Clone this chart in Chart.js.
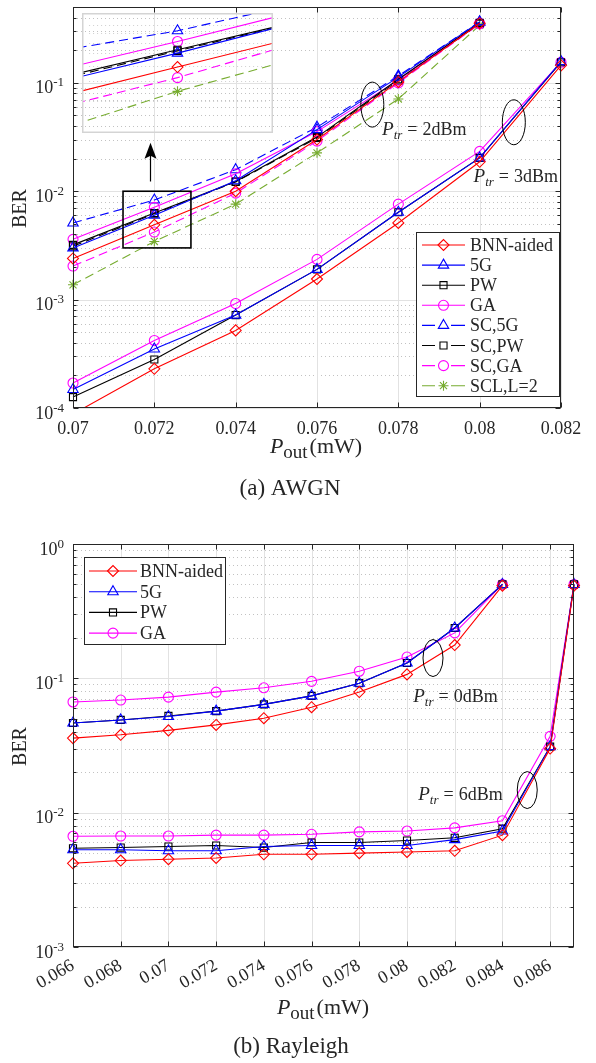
<!DOCTYPE html>
<html>
<head>
<meta charset="utf-8">
<script src="https://cdn.jsdelivr.net/npm/chart.js@4.4.1/dist/chart.umd.min.js"></script>
<style>
html,body{margin:0;padding:0;background:#fff;}
body{width:596px;height:1063px;position:relative;overflow:hidden;}
.w{position:absolute;}
#wa{left:0;top:0;width:596px;height:500px;}
#wi{left:82px;top:13px;width:191px;height:120px;}
#wb{left:0;top:500px;width:596px;height:563px;}
</style>
</head>
<body>
<div class="w" id="wa"><canvas id="ca"></canvas></div>
<div class="w" id="wb"><canvas id="cb"></canvas></div>
<div class="w" id="wi"><canvas id="ci"></canvas></div>
<script>
// ===================== DATA : (a) AWGN =====================
const pOutA_2dBm = [0.070, 0.072, 0.074, 0.076, 0.078, 0.080];
const pOutA_3dBm = [0.070, 0.072, 0.074, 0.076, 0.078, 0.080, 0.082];
const berA_BNN_2  = [0.0024, 0.0049, 0.0100, 0.0300, 0.102, 0.355];
const berA_5G_2   = [0.0030, 0.0060, 0.0125, 0.0370, 0.113, 0.365];
const berA_PW_2   = [0.0032, 0.0063, 0.0123, 0.0316, 0.108, 0.358];
const berA_GA_2   = [0.0036, 0.0071, 0.0145, 0.0355, 0.106, 0.355];
const berA_SC5G_2 = [0.0051, 0.0083, 0.0158, 0.0390, 0.116, 0.365];
const berA_SCPW_2 = [0.0031, 0.0062, 0.0122, 0.0310, 0.105, 0.352];
const berA_SCGA_2 = [0.00204, 0.0042, 0.0096, 0.0290, 0.100, 0.350];
const berA_SCL_2  = [0.00137, 0.00344, 0.0076, 0.0226, 0.071, 0.340];
const berA_BNN_3  = [0.000088, 0.00023, 0.00052, 0.00155, 0.0051, 0.0187, 0.145];
const berA_5G_3   = [0.000148, 0.00035, 0.00072, 0.00190, 0.0064, 0.0203, 0.157];
const berA_PW_3   = [0.000126, 0.00028, 0.00072, 0.00190, 0.0064, 0.0203, 0.155];
const berA_GA_3   = [0.000170, 0.00042, 0.00092, 0.00235, 0.0076, 0.0233, 0.155];
const xTicksA   = [0.070, 0.072, 0.074, 0.076, 0.078, 0.080, 0.082];
const yDecadesA = [1e-4, 1e-3, 1e-2, 1e-1];

// ===================== DATA : (b) Rayleigh =====================
const pOutB_0dBm = [0.066, 0.068, 0.070, 0.072, 0.074, 0.076, 0.078, 0.080, 0.082, 0.084];
const pOutB_6dBm = [0.066, 0.068, 0.070, 0.072, 0.074, 0.076, 0.078, 0.080, 0.082, 0.084, 0.086, 0.087];
const berB_BNN_0 = [0.0359, 0.038, 0.041, 0.045, 0.0505, 0.061, 0.079, 0.107, 0.177, 0.49];
const berB_5G_0  = [0.0465, 0.049, 0.052, 0.057, 0.064, 0.074, 0.092, 0.130, 0.237, 0.50];
const berB_PW_0  = [0.0465, 0.049, 0.0525, 0.057, 0.064, 0.074, 0.092, 0.130, 0.237, 0.50];
const berB_GA_0  = [0.0667, 0.0689, 0.0725, 0.079, 0.085, 0.095, 0.113, 0.144, 0.218, 0.50];
const berB_BNN_6 = [0.0042, 0.0044, 0.0045, 0.0046, 0.0049, 0.0049, 0.0050, 0.0051, 0.0052, 0.0068, 0.030, 0.49];
const berB_5G_6  = [0.0053, 0.0053, 0.0052, 0.0052, 0.0056, 0.0057, 0.0057, 0.0057, 0.0063, 0.0073, 0.031, 0.50];
const berB_PW_6  = [0.00543, 0.0055, 0.0056, 0.0057, 0.0055, 0.0060, 0.0060, 0.0062, 0.0065, 0.0076, 0.031, 0.50];
const berB_GA_6  = [0.00667, 0.0067, 0.0067, 0.0068, 0.0068, 0.0069, 0.0072, 0.0073, 0.0077, 0.0087, 0.037, 0.50];
const xTicksB   = [0.066, 0.068, 0.070, 0.072, 0.074, 0.076, 0.078, 0.080, 0.082, 0.084, 0.086];
const yDecadesB = [1e-3, 1e-2, 1e-1, 1];

// ===================== STYLE =====================
const FONT = '"Liberation Serif", "Times New Roman", "DejaVu Serif", serif';
const TXT = '#262626';
const DASH = [9, 5];
const STY = {
  bnn:  {label:'BNN-aided', color:'#ff0000', ps:'rectRot',  r:5.5, dash:[]},
  g5:   {label:'5G',        color:'#0000ff', ps:'triangle', r:6,   dash:[]},
  pw:   {label:'PW',        color:'#000000', ps:'rect',     r:5,   dash:[]},
  ga:   {label:'GA',        color:'#ff00ff', ps:'circle',   r:5,   dash:[]},
  sc5g: {label:'SC,5G',     color:'#0000ff', ps:'triangle', r:6,   dash:DASH},
  scpw: {label:'SC,PW',     color:'#000000', ps:'rect',     r:5,   dash:DASH},
  scga: {label:'SC,GA',     color:'#ff00ff', ps:'circle',   r:5,   dash:DASH},
  scl:  {label:'SCL,L=2',   color:'#77ac30', ps:'star',     r:5,   dash:DASH}
};

function ds(sty, xs, ys, clip) {
  return {
    label: sty.label,
    data: xs.map((x, i) => ({x: x, y: ys[i]})),
    borderColor: sty.color, backgroundColor: 'rgba(0,0,0,0)',
    borderWidth: 1.1, borderDash: sty.dash,
    pointStyle: sty.ps, pointRadius: sty.r, pointHoverRadius: sty.r,
    pointBorderColor: sty.color, pointBackgroundColor: 'rgba(0,0,0,0)',
    pointBorderWidth: 1.1, tension: 0, fill: false, clip: clip
  };
}
function fmtTick(v) { return String(+(+v).toFixed(3)); }

function marker(ctx, sty, x, y) {
  ctx.save();
  ctx.strokeStyle = sty.color; ctx.fillStyle = 'rgba(0,0,0,0)';
  ctx.lineWidth = 1.1; ctx.setLineDash([]);
  if (Chart.helpers && Chart.helpers.drawPoint) {
    Chart.helpers.drawPoint(ctx, {pointStyle: sty.ps, radius: sty.r, rotation: 0, borderWidth: 1.1}, x, y);
  } else {
    ctx.beginPath(); ctx.arc(x, y, sty.r, 0, Math.PI * 2); ctx.stroke();
  }
  ctx.restore();
}

function drawLegend(ctx, items, box, row0, rowH, lx0, lx1, tx) {
  ctx.save();
  ctx.fillStyle = '#fff';
  ctx.fillRect(box[0], box[1], box[2] - box[0], box[3] - box[1]);
  ctx.strokeStyle = TXT; ctx.lineWidth = 1;
  ctx.strokeRect(box[0] + 0.5, box[1] + 0.5, box[2] - box[0], box[3] - box[1]);
  items.forEach((s, i) => {
    const y = row0 + i * rowH;
    const mx = (lx0 + lx1) / 2;
    ctx.strokeStyle = s.color; ctx.lineWidth = 1.1; ctx.setLineDash([]);
    ctx.beginPath();
    if (s.dash.length) {
      ctx.moveTo(lx0, y); ctx.lineTo(lx0 + 13, y);
      ctx.moveTo(lx1 - 14, y); ctx.lineTo(lx1, y);
    } else {
      ctx.moveTo(lx0, y); ctx.lineTo(lx1, y);
    }
    ctx.stroke();
    marker(ctx, s, mx, y);
    ctx.fillStyle = TXT; ctx.font = '18px ' + FONT;
    ctx.textAlign = 'left'; ctx.textBaseline = 'alphabetic';
    ctx.fillText(s.label, tx, y + 6);
  });
  ctx.restore();
}

function drawPtr(ctx, x, y, val) {
  ctx.save();
  ctx.fillStyle = TXT; ctx.textAlign = 'left'; ctx.textBaseline = 'alphabetic';
  let cx = x;
  ctx.font = 'italic 19px ' + FONT; ctx.fillText('P', cx, y); cx += ctx.measureText('P').width;
  ctx.font = 'italic 13px ' + FONT; ctx.fillText('tr', cx, y + 4); cx += ctx.measureText('tr').width + 5;
  ctx.font = '18px ' + FONT; ctx.fillText('=', cx, y); cx += ctx.measureText('=').width + 5;
  ctx.fillText(val + 'dBm', cx, y);
  ctx.restore();
}

function drawPout(ctx, cx, y) {
  ctx.save();
  ctx.fillStyle = TXT; ctx.textAlign = 'left'; ctx.textBaseline = 'alphabetic';
  ctx.font = 'italic 22px ' + FONT; const w1 = ctx.measureText('P').width;
  ctx.font = '19px ' + FONT; const w2 = ctx.measureText('out').width;
  ctx.font = '22px ' + FONT; const w3 = ctx.measureText('(mW)').width;
  let x = cx - (w1 + w2 + w3 + 2) / 2;
  ctx.font = 'italic 22px ' + FONT; ctx.fillText('P', x, y); x += w1;
  ctx.font = '19px ' + FONT; ctx.fillText('out', x, y + 5); x += w2 + 2;
  ctx.font = '22px ' + FONT; ctx.fillText('(mW)', x, y);
  ctx.restore();
}

function ellipse(ctx, x, y, rx, ry) {
  ctx.save(); ctx.strokeStyle = '#000'; ctx.lineWidth = 1; ctx.setLineDash([]);
  ctx.beginPath(); ctx.ellipse(x, y, rx, ry, 0, 0, Math.PI * 2); ctx.stroke(); ctx.restore();
}

function minorVals(min, max) {
  const out = [];
  for (let e = Math.floor(Math.log10(min)); e <= Math.ceil(Math.log10(max)); e++) {
    for (let k = 2; k <= 9; k++) {
      const v = k * Math.pow(10, e);
      if (v > min * 1.0001 && v < max * 0.9999) out.push(v);
    }
  }
  return out;
}

function axesPlugin(cfg) {
  return {
    id: 'axes_' + cfg.name,
    beforeDatasetsDraw(chart) {
      const ctx = chart.ctx, a = chart.chartArea, xs = chart.scales.x, ys = chart.scales.y;
      ctx.save(); ctx.lineWidth = 1;
      ctx.strokeStyle = '#c2c2c2'; ctx.setLineDash([1, 3]);
      minorVals(ys.min, ys.max).forEach(v => {
        const py = Math.round(ys.getPixelForValue(v)) + 0.5;
        ctx.beginPath(); ctx.moveTo(a.left, py); ctx.lineTo(a.right, py); ctx.stroke();
      });
      ctx.setLineDash([]); ctx.strokeStyle = '#e2e2e2';
      cfg.xTicks.forEach(v => {
        const px = Math.round(xs.getPixelForValue(v)) + 0.5;
        ctx.beginPath(); ctx.moveTo(px, a.top); ctx.lineTo(px, a.bottom); ctx.stroke();
      });
      cfg.yDecades.forEach(v => {
        const py = Math.round(ys.getPixelForValue(v)) + 0.5;
        ctx.beginPath(); ctx.moveTo(a.left, py); ctx.lineTo(a.right, py); ctx.stroke();
      });
      ctx.restore();
    },
    afterDatasetsDraw(chart) {
      const ctx = chart.ctx, a = chart.chartArea, xs = chart.scales.x, ys = chart.scales.y;
      ctx.save();
      if (cfg.extrasBelow) cfg.extrasBelow(chart, ctx, xs, ys);
      // frame
      ctx.strokeStyle = TXT; ctx.lineWidth = 1; ctx.setLineDash([]);
      const L = Math.round(a.left) + 0.5, R = Math.round(a.right) - 0.5;
      const T = Math.round(a.top) + 0.5, B = Math.round(a.bottom) - 0.5;
      ctx.strokeRect(L, T, R - L, B - T);
      ctx.beginPath();
      cfg.xTicks.forEach(v => {
        const px = Math.round(xs.getPixelForValue(v)) + 0.5;
        ctx.moveTo(px, B); ctx.lineTo(px, B - 5);
        ctx.moveTo(px, T); ctx.lineTo(px, T + 5);
      });
      cfg.yDecades.forEach(v => {
        const py = Math.round(ys.getPixelForValue(v)) + 0.5;
        ctx.moveTo(L, py); ctx.lineTo(L + 5, py);
        ctx.moveTo(R, py); ctx.lineTo(R - 5, py);
      });
      minorVals(ys.min, ys.max).forEach(v => {
        const py = Math.round(ys.getPixelForValue(v)) + 0.5;
        ctx.moveTo(L, py); ctx.lineTo(L + 3, py);
        ctx.moveTo(R, py); ctx.lineTo(R - 3, py);
      });
      ctx.stroke();
      // y tick labels 10^n
      ctx.fillStyle = TXT; ctx.textBaseline = 'alphabetic'; ctx.textAlign = 'left';
      cfg.yDecades.forEach(v => {
        const py = ys.getPixelForValue(v);
        const e = Math.round(Math.log10(v));
        const sup = e < 0 ? '-' + (-e) : String(e);
        ctx.font = '13px ' + FONT; const ws = ctx.measureText(sup).width;
        ctx.font = '18px ' + FONT; const wb = ctx.measureText('10').width;
        const xr = a.left - 9;
        ctx.fillText('10', xr - ws - wb, py + 10.5);
        ctx.font = '13px ' + FONT; ctx.fillText(sup, xr - ws, py + 3.5);
      });
      // y title
      ctx.save();
      ctx.translate(cfg.yTitleX, (a.top + a.bottom) / 2 + 1);
      ctx.rotate(-Math.PI / 2);
      ctx.font = '20px ' + FONT; ctx.textAlign = 'center'; ctx.textBaseline = 'middle';
      ctx.fillText('BER', 0, 0);
      ctx.restore();
      // x title + caption
      drawPout(ctx, cfg.xTitle[0], cfg.xTitle[1]);
      ctx.fillStyle = TXT; ctx.font = '23px ' + FONT; ctx.textAlign = 'center'; ctx.textBaseline = 'alphabetic';
      ctx.fillText(cfg.caption, cfg.capPos[0], cfg.capPos[1]);
      if (cfg.extras) cfg.extras(chart, ctx, xs, ys);
      ctx.restore();
    }
  };
}

// ===================== CHART (a) =====================
const clipA = {left: 8, right: 8, top: 8, bottom: 0};
const legendA = [STY.bnn, STY.g5, STY.pw, STY.ga, STY.sc5g, STY.scpw, STY.scga, STY.scl];
const datasetsA = [
  ds(STY.bnn, pOutA_3dBm, berA_BNN_3, clipA),
  ds(STY.g5,  pOutA_3dBm, berA_5G_3,  clipA),
  ds(STY.pw,  pOutA_3dBm, berA_PW_3,  clipA),
  ds(STY.ga,  pOutA_3dBm, berA_GA_3,  clipA),
  ds(STY.bnn, pOutA_2dBm, berA_BNN_2, clipA),
  ds(STY.g5,  pOutA_2dBm, berA_5G_2,  clipA),
  ds(STY.pw,  pOutA_2dBm, berA_PW_2,  clipA),
  ds(STY.ga,  pOutA_2dBm, berA_GA_2,  clipA),
  ds(STY.sc5g, pOutA_2dBm, berA_SC5G_2, clipA),
  ds(STY.scpw, pOutA_2dBm, berA_SCPW_2, clipA),
  ds(STY.scga, pOutA_2dBm, berA_SCGA_2, clipA),
  ds(STY.scl,  pOutA_2dBm, berA_SCL_2,  clipA)
];
// zoom window (data coordinates) shown by the inset
const zoomX = [0.07123, 0.0729], zoomY = [0.003, 0.01];
const insetX = [0.0711, 0.0729], insetY = [0.00208, 0.0097];

new Chart(document.getElementById('ca'), {
  type: 'line',
  data: {datasets: datasetsA},
  options: {
    responsive: true, maintainAspectRatio: false, animation: false, events: [],
    layout: {padding: {left: 73, right: 35, top: 1, bottom: 0}},
    plugins: {legend: {display: false}, tooltip: {enabled: false}},
    scales: {
      x: {type: 'linear', min: 0.07, max: 0.082,
          grid: {display: false, drawTicks: false}, border: {display: false},
          afterBuildTicks: s => { s.ticks = xTicksA.map(v => ({value: v})); },
          afterFit: s => { s.height = 92; },
          ticks: {font: {family: FONT, size: 18}, color: TXT, padding: 10, maxRotation: 0, minRotation: 0,
                  autoSkip: false, callback: v => fmtTick(v)}},
      y: {type: 'logarithmic', min: 1e-4, max: 0.5, display: false}
    }
  },
  plugins: [axesPlugin({
    name: 'a', xTicks: xTicksA, yDecades: yDecadesA, yTitleX: 21,
    xTitle: [316, 453], caption: '(a) AWGN', capPos: [290, 495],
    extras(chart, ctx, xs, ys) {
      // zoom rectangle
      const x0 = xs.getPixelForValue(zoomX[0]), x1 = xs.getPixelForValue(zoomX[1]);
      const y0 = ys.getPixelForValue(zoomY[1]), y1 = ys.getPixelForValue(zoomY[0]);
      ctx.strokeStyle = '#000'; ctx.lineWidth = 1.6; ctx.setLineDash([]);
      ctx.strokeRect(x0, y0, x1 - x0, y1 - y0);
      // arrow
      const ax = Math.round(xs.getPixelForValue(0.0719)) + 0.5;
      const ab = ys.getPixelForValue(0.0123), at = ys.getPixelForValue(0.028);
      ctx.lineWidth = 1.2;
      ctx.beginPath(); ctx.moveTo(ax, ab); ctx.lineTo(ax, at + 10); ctx.stroke();
      ctx.fillStyle = '#000';
      ctx.beginPath(); ctx.moveTo(ax, at); ctx.lineTo(ax - 6, at + 16); ctx.lineTo(ax, at + 13);
      ctx.lineTo(ax + 6, at + 16); ctx.closePath(); ctx.fill();
      // ellipses + labels
      ellipse(ctx, xs.getPixelForValue(0.07736), ys.getPixelForValue(0.063), 11.5, 22.5);
      ellipse(ctx, xs.getPixelForValue(0.08084), ys.getPixelForValue(0.0433), 11.5, 22.5);
      drawPtr(ctx, xs.getPixelForValue(0.0776), ys.getPixelForValue(0.033), '2');
      drawPtr(ctx, xs.getPixelForValue(0.07985), ys.getPixelForValue(0.0121), '3');
      drawLegend(ctx, legendA, [416, 232, 559, 396], 245, 20.1, 422, 465, 470);
    }
  })]
});

// ===================== INSET of (a) =====================
const datasetsI = [
  ds(STY.bnn,  pOutA_2dBm, berA_BNN_2,  false),
  ds(STY.g5,   pOutA_2dBm, berA_5G_2,   false),
  ds(STY.pw,   pOutA_2dBm, berA_PW_2,   false),
  ds(STY.ga,   pOutA_2dBm, berA_GA_2,   false),
  ds(STY.sc5g, pOutA_2dBm, berA_SC5G_2, false),
  ds(STY.scpw, pOutA_2dBm, berA_SCPW_2, false),
  ds(STY.scga, pOutA_2dBm, berA_SCGA_2, false),
  ds(STY.scl,  pOutA_2dBm, berA_SCL_2,  false)
];
new Chart(document.getElementById('ci'), {
  type: 'line',
  data: {datasets: datasetsI},
  options: {
    responsive: true, maintainAspectRatio: false, animation: false, events: [],
    layout: {padding: 0},
    plugins: {legend: {display: false}, tooltip: {enabled: false}},
    scales: {
      x: {type: 'linear', min: insetX[0], max: insetX[1], display: false},
      y: {type: 'logarithmic', min: insetY[0], max: insetY[1], display: false}
    }
  },
  plugins: [{
    id: 'insetFrame',
    beforeDatasetsDraw(chart) {
      const ctx = chart.ctx, a = chart.chartArea, ys = chart.scales.y;
      ctx.save(); ctx.lineWidth = 1; ctx.strokeStyle = '#cfcfcf'; ctx.setLineDash([1, 3]);
      minorVals(ys.min, ys.max).forEach(v => {
        const py = Math.round(ys.getPixelForValue(v)) + 0.5;
        ctx.beginPath(); ctx.moveTo(a.left, py); ctx.lineTo(a.right, py); ctx.stroke();
      });
      ctx.restore();
    },
    afterDatasetsDraw(chart) {
      const ctx = chart.ctx, w = chart.width, h = chart.height;
      ctx.save(); ctx.strokeStyle = '#d4d4d4'; ctx.lineWidth = 1.5; ctx.setLineDash([]);
      ctx.strokeRect(0.75, 0.75, w - 1.5, h - 1.5); ctx.restore();
    }
  }]
});

// ===================== CHART (b) =====================
const clipB = {left: 8, right: 8, top: 8, bottom: 8};
const legendB = [STY.bnn, STY.g5, STY.pw, STY.ga];
const datasetsB = [
  ds(STY.bnn, pOutB_6dBm, berB_BNN_6, clipB),
  ds(STY.g5,  pOutB_6dBm, berB_5G_6,  clipB),
  ds(STY.pw,  pOutB_6dBm, berB_PW_6,  clipB),
  ds(STY.ga,  pOutB_6dBm, berB_GA_6,  clipB),
  ds(STY.bnn, pOutB_0dBm, berB_BNN_0, clipB),
  ds(STY.g5,  pOutB_0dBm, berB_5G_0,  clipB),
  ds(STY.pw,  pOutB_0dBm, berB_PW_0,  clipB),
  ds(STY.ga,  pOutB_0dBm, berB_GA_0,  clipB)
];
new Chart(document.getElementById('cb'), {
  type: 'line',
  data: {datasets: datasetsB},
  options: {
    responsive: true, maintainAspectRatio: false, animation: false, events: [],
    layout: {padding: {left: 73, right: 22, top: 44, bottom: 0}},
    plugins: {legend: {display: false}, tooltip: {enabled: false}},
    scales: {
      x: {type: 'linear', min: 0.066, max: 0.087,
          grid: {display: false, drawTicks: false}, border: {display: false},
          afterBuildTicks: s => { s.ticks = xTicksB.map(v => ({value: v})); },
          afterFit: s => { s.height = 116; },
          ticks: {font: {family: FONT, size: 18}, color: TXT, padding: 8, maxRotation: 30, minRotation: 30,
                  autoSkip: false, callback: v => fmtTick(v)}},
      y: {type: 'logarithmic', min: 1e-3, max: 1, display: false}
    }
  },
  plugins: [axesPlugin({
    name: 'b', xTicks: xTicksB, yDecades: yDecadesB, yTitleX: 21,
    xTitle: [323, 514], caption: '(b) Rayleigh', capPos: [291, 553],
    extras(chart, ctx, xs, ys) {
      ellipse(ctx, xs.getPixelForValue(0.08109), ys.getPixelForValue(0.1416), 10, 18.5);
      ellipse(ctx, xs.getPixelForValue(0.08504), ys.getPixelForValue(0.01473), 10, 18.5);
      drawPtr(ctx, xs.getPixelForValue(0.08026), ys.getPixelForValue(0.0667), '0');
      drawPtr(ctx, xs.getPixelForValue(0.08047), ys.getPixelForValue(0.0124), '6');
      drawLegend(ctx, legendB, [84, 57, 225, 144], 71, 20.7, 89, 137, 140);
    }
  })]
});
</script>
</body>
</html>
